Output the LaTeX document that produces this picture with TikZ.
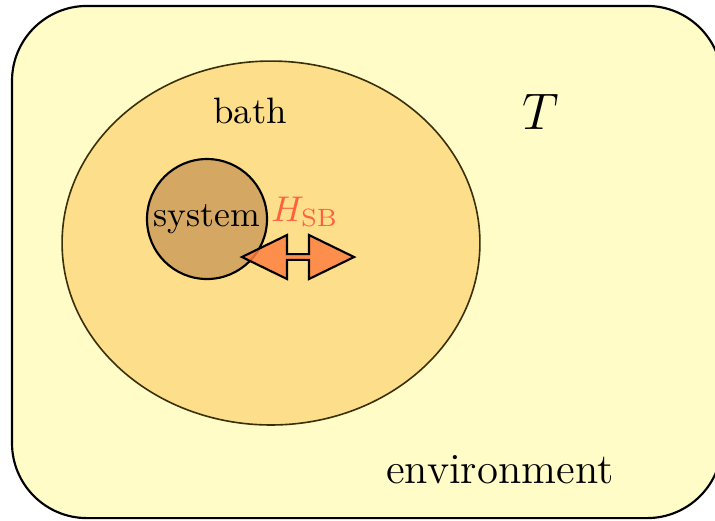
\documentclass[tikz,border=0pt]{standalone}
\usetikzlibrary{shapes.geometric,shapes.arrows}

\definecolor{envfill}{RGB}{255,252,200}
\definecolor{bathfill}{RGB}{253,222,138}
\definecolor{bathline}{RGB}{58,48,8}
\definecolor{sysfill}{RGB}{212,168,98}
\definecolor{coupling}{RGB}{255,128,64}
\definecolor{couplingtext}{RGB}{255,96,64}

\begin{document}
\begin{tikzpicture}[
  x=0.28pt, y=-0.28pt,
  envbox/.style={draw, line width=0.6pt, rounded corners=21pt, fill=envfill, inner sep=0pt},
  bathbox/.style={draw=bathline, line width=0.45pt, ellipse, fill=bathfill, inner sep=0pt},
  sysbox/.style={draw, line width=0.6pt, circle, fill=sysfill, inner sep=0pt},
  link/.style={draw, line width=0.6pt, double arrow, fill=coupling, fill opacity=0.85,
    double arrow tip angle=52, double arrow head extend=2pt, inner sep=0pt},
  lbl/.style={font=\fontsize{10}{12}\selectfont},
]
\useasboundingbox (0,0) rectangle (715,520);
\clip (0,0) rectangle (715,520);

% ---- environment, bath and system -----------------------------------------
\node[envbox, minimum width=198.8pt, minimum height=143.4pt] (env) at (367,262) {};
\node[bathbox, minimum width=117pt, minimum height=101.9pt] (bath) at (271,243) {};
\node[sysbox, minimum size=33.6pt, lbl] (sys) at (207,219) {system};

% ---- coupling ----------------------------------------------------------------
\node[link, minimum height=31.4pt, minimum width=12.3pt] (hsb) at (298,257) {};
\node[lbl, text=couplingtext] (hsblbl) at (305,212) {$H_{\mathrm{SB}}$};

% ---- labels -------------------------------------------------------------------
\node[lbl, font=\fontsize{10.3}{12}\selectfont] (bathlbl) at (250,111) {bath};
\node[font=\fontsize{15.5}{18}\selectfont] (temp) at (541,112) {$T$};
\node[font=\fontsize{12}{14}\selectfont] (envlbl) at (500,470) {environment};

\end{tikzpicture}
\end{document}
